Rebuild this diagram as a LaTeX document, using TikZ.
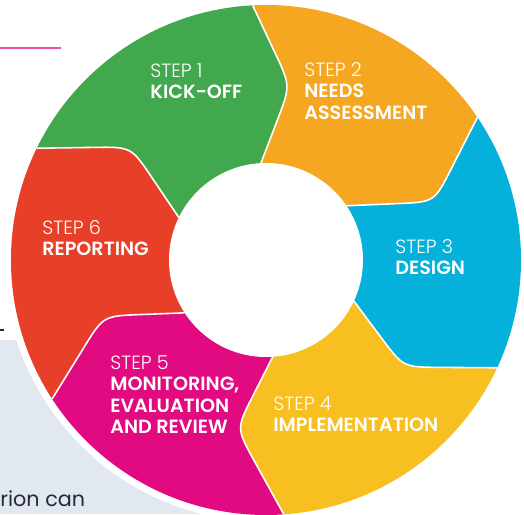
\documentclass[tikz,border=0pt]{standalone}
\usepackage{fontspec}
\setmainfont{Poppins}
\newfontfamily\lightfont{Poppins Light}
\newfontfamily\headfont{Poppins SemiBold}
\usetikzlibrary{calc}

\definecolor{stepgreen}{HTML}{42A84E}
\definecolor{steporange}{HTML}{F5A721}
\definecolor{stepblue}{HTML}{05B0DA}
\definecolor{stepyellow}{HTML}{F8BF20}
\definecolor{stepmagenta}{HTML}{E10A80}
\definecolor{stepred}{HTML}{E73F28}
\definecolor{panelgray}{HTML}{E1E8F0}
\definecolor{rulepink}{HTML}{EC4FA6}
\definecolor{inknavy}{HTML}{27293B}

\begin{document}
\begin{tikzpicture}[x=0.02cm, y=0.02cm]
        \tikzstyle{every node}=[inner sep=0pt, text=white]
        \tikzstyle{stepnode}=[anchor=north west, align=left, font=\fontsize{10.9}{12.3}\selectfont]
        \useasboundingbox (-266,-254) rectangle (258,260);
        % page bits behind the wheel
        \fill[panelgray] (-266,-254) rectangle (0,-80);
        \draw[rulepink, line width=0.85pt] (-266,212) -- (-205,212);
        \draw[inknavy, line width=0.6pt] (-266,-70) -- (-262,-70);
        \node[text=inknavy, anchor=base west, font=\fontsize{11.8}{13}\selectfont] (body) at (-266,-246) {rion can};
        \fill[white] (0,0) circle (262);
        % wavy borders between the steps
        \foreach \n/\ang/\lag/\rad in {12/93/11/176, 23/34/15/178, 34/-25/13/174, 45/-86/14/171, 56/-147/14/172, 61/154/14/176} {
          \coordinate (in\n) at (\ang:97);
          \coordinate (out\n) at (\ang:255);
          \coordinate (knee\n) at (\ang-\lag:\rad);
          \coordinate (kin\n) at ($(knee\n)!21pt!(in\n)$);
          \coordinate (kout\n) at ($(knee\n)!21pt!(out\n)$);
        }
        \begin{scope}
          \clip (0,0) circle (255);
          \foreach \c/\p/\q/\m in {stepgreen/61/12/123.5, steporange/12/23/63.5, stepblue/23/34/4.5, stepyellow/34/45/-55.5, stepmagenta/45/56/-116.5, stepred/56/61/-176.5}
            \fill[\c] (0,0) -- (in\p) -- (kin\p) .. controls (knee\p) .. (kout\p) -- (out\p)
              -- ($(0,0)!1.3!(out\p)$) -- (\m:420) -- ($(0,0)!1.3!(out\q)$)
              -- (out\q) -- (kout\q) .. controls (knee\q) .. (kin\q) -- (in\q) -- cycle;
          \foreach \n in {12,23,34,45,56,61}
            \draw[white, line width=0.9pt] (in\n) -- (kin\n) .. controls (knee\n) .. (kout\n) -- (out\n);
        \end{scope}
        \fill[white] (0,0) circle (97);
        % step texts
        \node[stepnode] (kickoff) at (-116,197) {{\lightfont STEP 1}\\{\headfont KICK-OFF}};
        \node[stepnode] (needs) at (38,198) {{\lightfont STEP 2}\\{\headfont NEEDS}\\{\headfont ASSESSMENT}};
        \node[stepnode] (design) at (129,21) {{\lightfont STEP 3}\\{\headfont DESIGN}};
        \node[stepnode] (implement) at (7,-136) {{\lightfont STEP 4}\\{\headfont IMPLEMENTATION}};
        \node[stepnode] (monitor) at (-156,-95) {{\lightfont STEP 5}\\{\headfont MONITORING,}\\{\headfont EVALUATION}\\{\headfont AND REVIEW}};
        \node[stepnode] (report) at (-224,40) {{\lightfont STEP 6}\\{\headfont REPORTING}};
\end{tikzpicture}
\end{document}
